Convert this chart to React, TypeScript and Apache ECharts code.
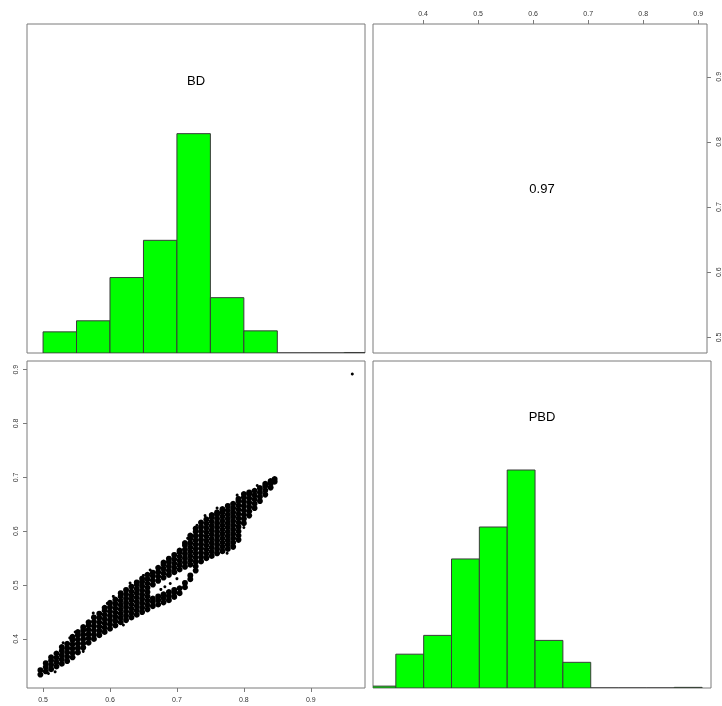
import React, { useEffect, useRef } from "react";
import * as echarts from "echarts";

// ---- data ----
const VAR_NAMES = ["BD", "PBD"];
const CORRELATION = "0.97";
const BIN_WIDTH = 0.05;
const BD_BIN_STARTS = [0.5, 0.55, 0.6, 0.65, 0.7, 0.75, 0.8, 0.85, 0.9, 0.95];
const BD_COUNTS = [42, 64, 150, 224, 436, 110, 44, 0, 0, 1];
const PBD_BIN_STARTS = [0.3, 0.35, 0.4, 0.45, 0.5, 0.55, 0.6, 0.65, 0.7, 0.75, 0.8, 0.85];
const PBD_COUNTS = [3, 54, 84, 206, 257, 348, 76, 41, 0, 0, 0, 1];
const BD_TICKS = [0.5, 0.6, 0.7, 0.8, 0.9];
const PBD_TICKS = [0.4, 0.5, 0.6, 0.7, 0.8, 0.9];
const BD_RANGE = [0.476, 0.981];
const PBD_RANGE = [0.309, 0.916];
const HIST_Y_MAX = 1.5;

// scatter cloud, read column by column: [BD, list of PBD values]
const SCATTER_COLUMNS: [number, number[]][] = [
  [0.496, [0.334, 0.342]],
  [0.504, [0.34, 0.348, 0.355]],
  [0.512, [0.344, 0.352, 0.36, 0.366]],
  [0.52, [0.349, 0.357, 0.365, 0.373]],
  [0.528, [0.354, 0.362, 0.37, 0.378, 0.385]],
  [0.536, [0.359, 0.367, 0.375, 0.383, 0.391]],
  [0.544, [0.366, 0.374, 0.382, 0.39, 0.398, 0.404]],
  [0.552, [0.375, 0.383, 0.391, 0.399, 0.407, 0.413]],
  [0.56, [0.384, 0.392, 0.4, 0.408, 0.416, 0.422]],
  [0.568, [0.393, 0.401, 0.409, 0.417, 0.425, 0.431]],
  [0.576, [0.4, 0.408, 0.416, 0.424, 0.432, 0.44]],
  [0.584, [0.407, 0.415, 0.423, 0.431, 0.439, 0.447]],
  [0.592, [0.413, 0.421, 0.429, 0.437, 0.445, 0.453, 0.458]],
  [0.6, [0.419, 0.427, 0.435, 0.443, 0.451, 0.459, 0.467]],
  [0.608, [0.425, 0.433, 0.441, 0.449, 0.457, 0.465, 0.473]],
  [0.616, [0.431, 0.439, 0.447, 0.455, 0.463, 0.471, 0.479, 0.485]],
  [0.624, [0.435, 0.443, 0.451, 0.459, 0.467, 0.475, 0.483, 0.491]],
  [0.632, [0.44, 0.448, 0.456, 0.464, 0.472, 0.48, 0.488, 0.497]],
  [0.64, [0.445, 0.453, 0.461, 0.469, 0.477, 0.485, 0.493, 0.501, 0.505]],
  [0.648, [0.45, 0.458, 0.466, 0.474, 0.482, 0.49, 0.498, 0.506, 0.512]],
  [0.656, [0.455, 0.463, 0.471, 0.479, 0.487, 0.495, 0.503, 0.511, 0.519]],
  [0.664, [0.461, 0.469, 0.475, 0.501, 0.509, 0.517, 0.523]],
  [0.672, [0.464, 0.472, 0.479, 0.508, 0.516, 0.524, 0.532]],
  [0.68, [0.468, 0.476, 0.483, 0.514, 0.522, 0.53, 0.538, 0.542]],
  [0.688, [0.472, 0.48, 0.487, 0.519, 0.527, 0.535, 0.543, 0.549]],
  [0.696, [0.478, 0.486, 0.491, 0.524, 0.532, 0.54, 0.548, 0.556]],
  [0.704, [0.485, 0.494, 0.529, 0.537, 0.545, 0.553, 0.561, 0.564]],
  [0.712, [0.496, 0.504, 0.534, 0.542, 0.55, 0.558, 0.566, 0.574, 0.578]],
  [0.72, [0.511, 0.518, 0.538, 0.546, 0.554, 0.562, 0.57, 0.578, 0.586, 0.592]],
  [0.728, [0.527, 0.535, 0.543, 0.551, 0.559, 0.567, 0.575, 0.583, 0.591, 0.599, 0.605]],
  [0.736, [0.544, 0.552, 0.56, 0.568, 0.576, 0.584, 0.592, 0.6, 0.608, 0.616]],
  [0.744, [0.55, 0.558, 0.566, 0.574, 0.582, 0.59, 0.598, 0.606, 0.614, 0.622]],
  [0.752, [0.554, 0.562, 0.57, 0.578, 0.586, 0.594, 0.602, 0.61, 0.618, 0.626, 0.63]],
  [0.76, [0.559, 0.567, 0.575, 0.583, 0.591, 0.599, 0.607, 0.615, 0.623, 0.631, 0.635]],
  [0.768, [0.563, 0.571, 0.579, 0.587, 0.595, 0.603, 0.611, 0.619, 0.627, 0.635, 0.641]],
  [0.776, [0.567, 0.575, 0.583, 0.591, 0.599, 0.607, 0.615, 0.623, 0.631, 0.639, 0.647]],
  [0.784, [0.571, 0.579, 0.587, 0.595, 0.603, 0.611, 0.619, 0.627, 0.635, 0.643, 0.651]],
  [0.792, [0.584, 0.592, 0.6, 0.608, 0.616, 0.624, 0.632, 0.64, 0.648, 0.656, 0.66]],
  [0.8, [0.615, 0.623, 0.631, 0.639, 0.647, 0.655, 0.663, 0.669]],
  [0.808, [0.629, 0.637, 0.645, 0.653, 0.661, 0.669, 0.672]],
  [0.816, [0.643, 0.651, 0.659, 0.667, 0.675]],
  [0.824, [0.656, 0.664, 0.672, 0.68]],
  [0.832, [0.668, 0.676, 0.684, 0.688]],
  [0.84, [0.681, 0.688, 0.693]],
  [0.846, [0.692, 0.697]],
];
// isolated points around the edges of the cloud, and the single outlier
const SCATTER_STRAYS: [number, number][] = [
  [0.53, 0.393], [0.548, 0.413], [0.575, 0.448], [0.605, 0.479], [0.63, 0.504],
  [0.66, 0.528], [0.69, 0.503], [0.682, 0.497], [0.518, 0.339], [0.56, 0.377],
  [0.62, 0.426], [0.676, 0.492], [0.742, 0.629], [0.79, 0.667], [0.775, 0.559],
  [0.508, 0.336], [0.54, 0.402], [0.596, 0.466], [0.65, 0.518], [0.7, 0.512],
  [0.716, 0.587], [0.73, 0.611], [0.76, 0.643], [0.82, 0.685], [0.8, 0.607],
  [0.962, 0.892],
];

// ---- layout ----
const GRIDS = [
  { left: 27, top: 24, width: 338, height: 329 },
  { left: 373, top: 24, width: 338, height: 329 },
  { left: 27, top: 361, width: 338, height: 327 },
  { left: 373, top: 361, width: 338, height: 327 },
];
const BOX = "#7a7a7a";
const TICK_FONT = { fontSize: 7, color: "#333", fontFamily: "Liberation Sans, Arial, sans-serif" };
const MAIN_FONT = "Liberation Sans, Arial, sans-serif";

function histData(starts: number[], counts: number[]) {
  const m = Math.max(...counts);
  return starts.map((s, i) => [s, s + BIN_WIDTH, counts[i] / m]);
}

const histRender = (params: any, api: any) => {
  const x0 = api.value(0);
  const x1 = api.value(1);
  const h = api.value(2);
  const p0 = api.coord([x0, 0]);
  const p1 = api.coord([x1, h]);
  return {
    type: "rect",
    shape: { x: p0[0], y: p1[1], width: p1[0] - p0[0], height: p0[1] - p1[1] },
    style: { fill: "#00ff00", stroke: "#3a3a3a", lineWidth: 1 },
  };
};

export default function App() {
  const ref = useRef<HTMLDivElement>(null);
  useEffect(() => {
    if (!ref.current) return;
    const chart = echarts.init(ref.current, null, { renderer: "svg" });
    const cloudPts: number[][] = [];
    SCATTER_COLUMNS.forEach(([x, ys]) => ys.forEach((y) => cloudPts.push([x, y])));

    const hiddenAxis = (gridIndex: number, range: number[]) => ({
      type: "value", gridIndex, min: range[0], max: range[1], show: false,
    });
    const shownAxis = (gridIndex: number, range: number[], ticks: number[], position: string, rotate: number, margin: number) => ({
      type: "value", gridIndex, min: range[0], max: range[1], position,
      axisLine: { show: false },
      splitLine: { show: false },
      axisTick: { show: true, length: 4, customValues: ticks, lineStyle: { color: BOX, width: 1 } },
      axisLabel: { show: true, customValues: ticks, rotate, margin, ...TICK_FONT, formatter: (v: number) => String(Math.round(v * 10) / 10) },
    });

    const option: any = {
      animation: false,
      backgroundColor: "#ffffff",
      grid: GRIDS.map((g) => ({ ...g, show: true, borderColor: BOX, borderWidth: 1, backgroundColor: "transparent", containLabel: false })),
      xAxis: [
        hiddenAxis(0, BD_RANGE),
        shownAxis(1, PBD_RANGE, PBD_TICKS, "top", 0, 7),
        shownAxis(2, BD_RANGE, BD_TICKS, "bottom", 0, 8),
        hiddenAxis(3, PBD_RANGE),
      ],
      yAxis: [
        hiddenAxis(0, [0, HIST_Y_MAX]),
        shownAxis(1, BD_RANGE, BD_TICKS, "right", 90, 8),
        shownAxis(2, PBD_RANGE, PBD_TICKS, "left", 90, 8),
        hiddenAxis(3, [0, HIST_Y_MAX]),
      ],
      series: [
        {
          type: "custom", xAxisIndex: 0, yAxisIndex: 0, clip: true,
          renderItem: histRender, data: histData(BD_BIN_STARTS, BD_COUNTS),
        },
        {
          type: "custom", xAxisIndex: 3, yAxisIndex: 3, clip: true,
          renderItem: histRender, data: histData(PBD_BIN_STARTS, PBD_COUNTS),
        },
        {
          type: "scatter", xAxisIndex: 2, yAxisIndex: 2, symbol: "circle", symbolSize: 6,
          itemStyle: { color: "#000", opacity: 1 }, data: cloudPts, clip: true,
        },
        {
          type: "scatter", xAxisIndex: 2, yAxisIndex: 2, symbol: "circle", symbolSize: 3,
          itemStyle: { color: "#000", opacity: 1 }, data: SCATTER_STRAYS, clip: true,
        },
      ],
      graphic: [
        {
          type: "text", x: GRIDS[0].left + GRIDS[0].width / 2, y: GRIDS[0].top + 56,
          style: { text: VAR_NAMES[0], font: `13px ${MAIN_FONT}`, fill: "#000", textAlign: "center", textVerticalAlign: "middle" },
        },
        {
          type: "text", x: GRIDS[3].left + GRIDS[3].width / 2, y: GRIDS[3].top + 55,
          style: { text: VAR_NAMES[1], font: `13px ${MAIN_FONT}`, fill: "#000", textAlign: "center", textVerticalAlign: "middle" },
        },
        {
          type: "text", x: GRIDS[1].left + GRIDS[1].width / 2, y: GRIDS[1].top + GRIDS[1].height / 2,
          style: { text: CORRELATION, font: `13px ${MAIN_FONT}`, fill: "#000", textAlign: "center", textVerticalAlign: "middle" },
        },
      ],
    };
    chart.setOption(option);
    return () => chart.dispose();
  }, []);
  return <div ref={ref} style={{ position: "absolute", left: 0, top: 0, width: 722, height: 706, willChange: "transform" }} />;
}
